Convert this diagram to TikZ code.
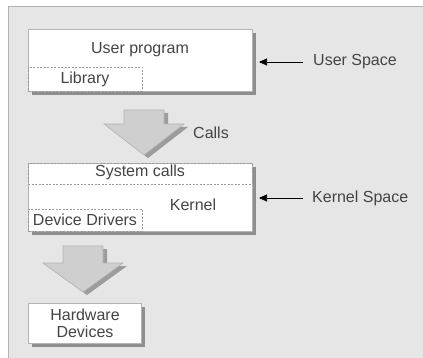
\documentclass[tikz,border=0pt]{standalone}
\usepackage{fontspec}
\setmainfont{Liberation Sans}
\usetikzlibrary{arrows.meta,shadows}
\definecolor{panel}{HTML}{E6E6E6}
\definecolor{txt}{HTML}{444444}
\definecolor{shad}{HTML}{8E8E8E}
\definecolor{edge}{HTML}{B4B4B4}
\definecolor{dash}{HTML}{9A9A9A}
\definecolor{arrfill}{HTML}{CFCFCF}
\definecolor{arrshad}{HTML}{9C9C9C}
\tikzset{
  box/.style={draw=edge, line width=0.8pt, fill=white, inner sep=0pt, outer sep=0pt,
    anchor=north west, drop shadow={shadow xshift=4pt, shadow yshift=-4pt, fill=shad, opacity=1}},
  dbox/.style={draw=dash, line width=0.8pt, dash pattern=on 2pt off 1.5pt, inner sep=0pt, outer sep=0pt, anchor=north west},
  lbl/.style={text=txt, font=\fontsize{16}{18}\selectfont, inner sep=0pt},
  pointer/.style={draw=black, line width=0.7pt, -{Triangle[length=8pt,width=7pt]}},
  blockarrow/.style={fill=arrfill, draw=edge, line width=0.6pt},
  blockshadow/.style={fill=arrshad},
}
\begin{document}
\begin{tikzpicture}[x=1pt,y=-1pt]
\useasboundingbox (0,0) rectangle (423,358);
% panel
\fill[panel] (8,7) rectangle (423,358);
\draw[edge, line width=1pt] (8,358) -- (8,7) -- (423,7);

% user space
\node[box, minimum width=224pt, minimum height=62pt] (userbox) at (28,29) {};
\node[dbox, minimum width=114pt, minimum height=24pt] (libbox) at (28,67) {};
\node[lbl] (usertxt) at (140,50) {User program};
\node[lbl] (libtxt) at (85,79) {Library};
\node[lbl, anchor=west] (uspace) at (313,62) {User Space};
\draw[pointer, shorten <=10pt, shorten >=7pt] (uspace.west) -- (userbox.east |- uspace.west);

% calls arrow
\fill[blockshadow] (128,113) -- (168,113) -- (168,127) -- (188,127) -- (148,158) -- (108,127) -- (128,127) -- cycle;
\draw[blockarrow] (124,110) -- (164,110) -- (164,124) -- (184,124) -- (144,155) -- (104,124) -- (124,124) -- cycle;
\node[lbl, anchor=west] (calls) at (193,133) {Calls};

% kernel space
\node[box, minimum width=224pt, minimum height=68pt] (kernbox) at (28,163) {};
\node[dbox, minimum width=224pt, minimum height=21pt] (sysbox) at (28,163) {};
\node[dbox, minimum width=114pt, minimum height=22pt] (ddbox) at (28,209) {};
\node[lbl] (systxt) at (140,172) {System calls};
\node[lbl] (kerntxt) at (193,205) {Kernel};
\node[lbl] (ddtxt) at (85,220) {Device Drivers};
\node[lbl, anchor=west] (kspace) at (312,198) {Kernel Space};
\draw[pointer, shorten <=9pt, shorten >=7pt] (kspace.west) -- (kernbox.east |- kspace.west);

% hardware arrow
\fill[blockshadow] (67,249) -- (107,249) -- (107,266) -- (127,266) -- (87,295) -- (47,266) -- (67,266) -- cycle;
\draw[blockarrow] (63,246) -- (103,246) -- (103,263) -- (123,263) -- (83,292) -- (43,263) -- (63,263) -- cycle;

% hardware
\node[box, minimum width=113pt, minimum height=40pt] (hwbox) at (28,303) {};
\node[lbl, align=center, font=\fontsize{16}{17}\selectfont] (hwtxt) at (85,323) {Hardware\\Devices};
\end{tikzpicture}
\end{document}
